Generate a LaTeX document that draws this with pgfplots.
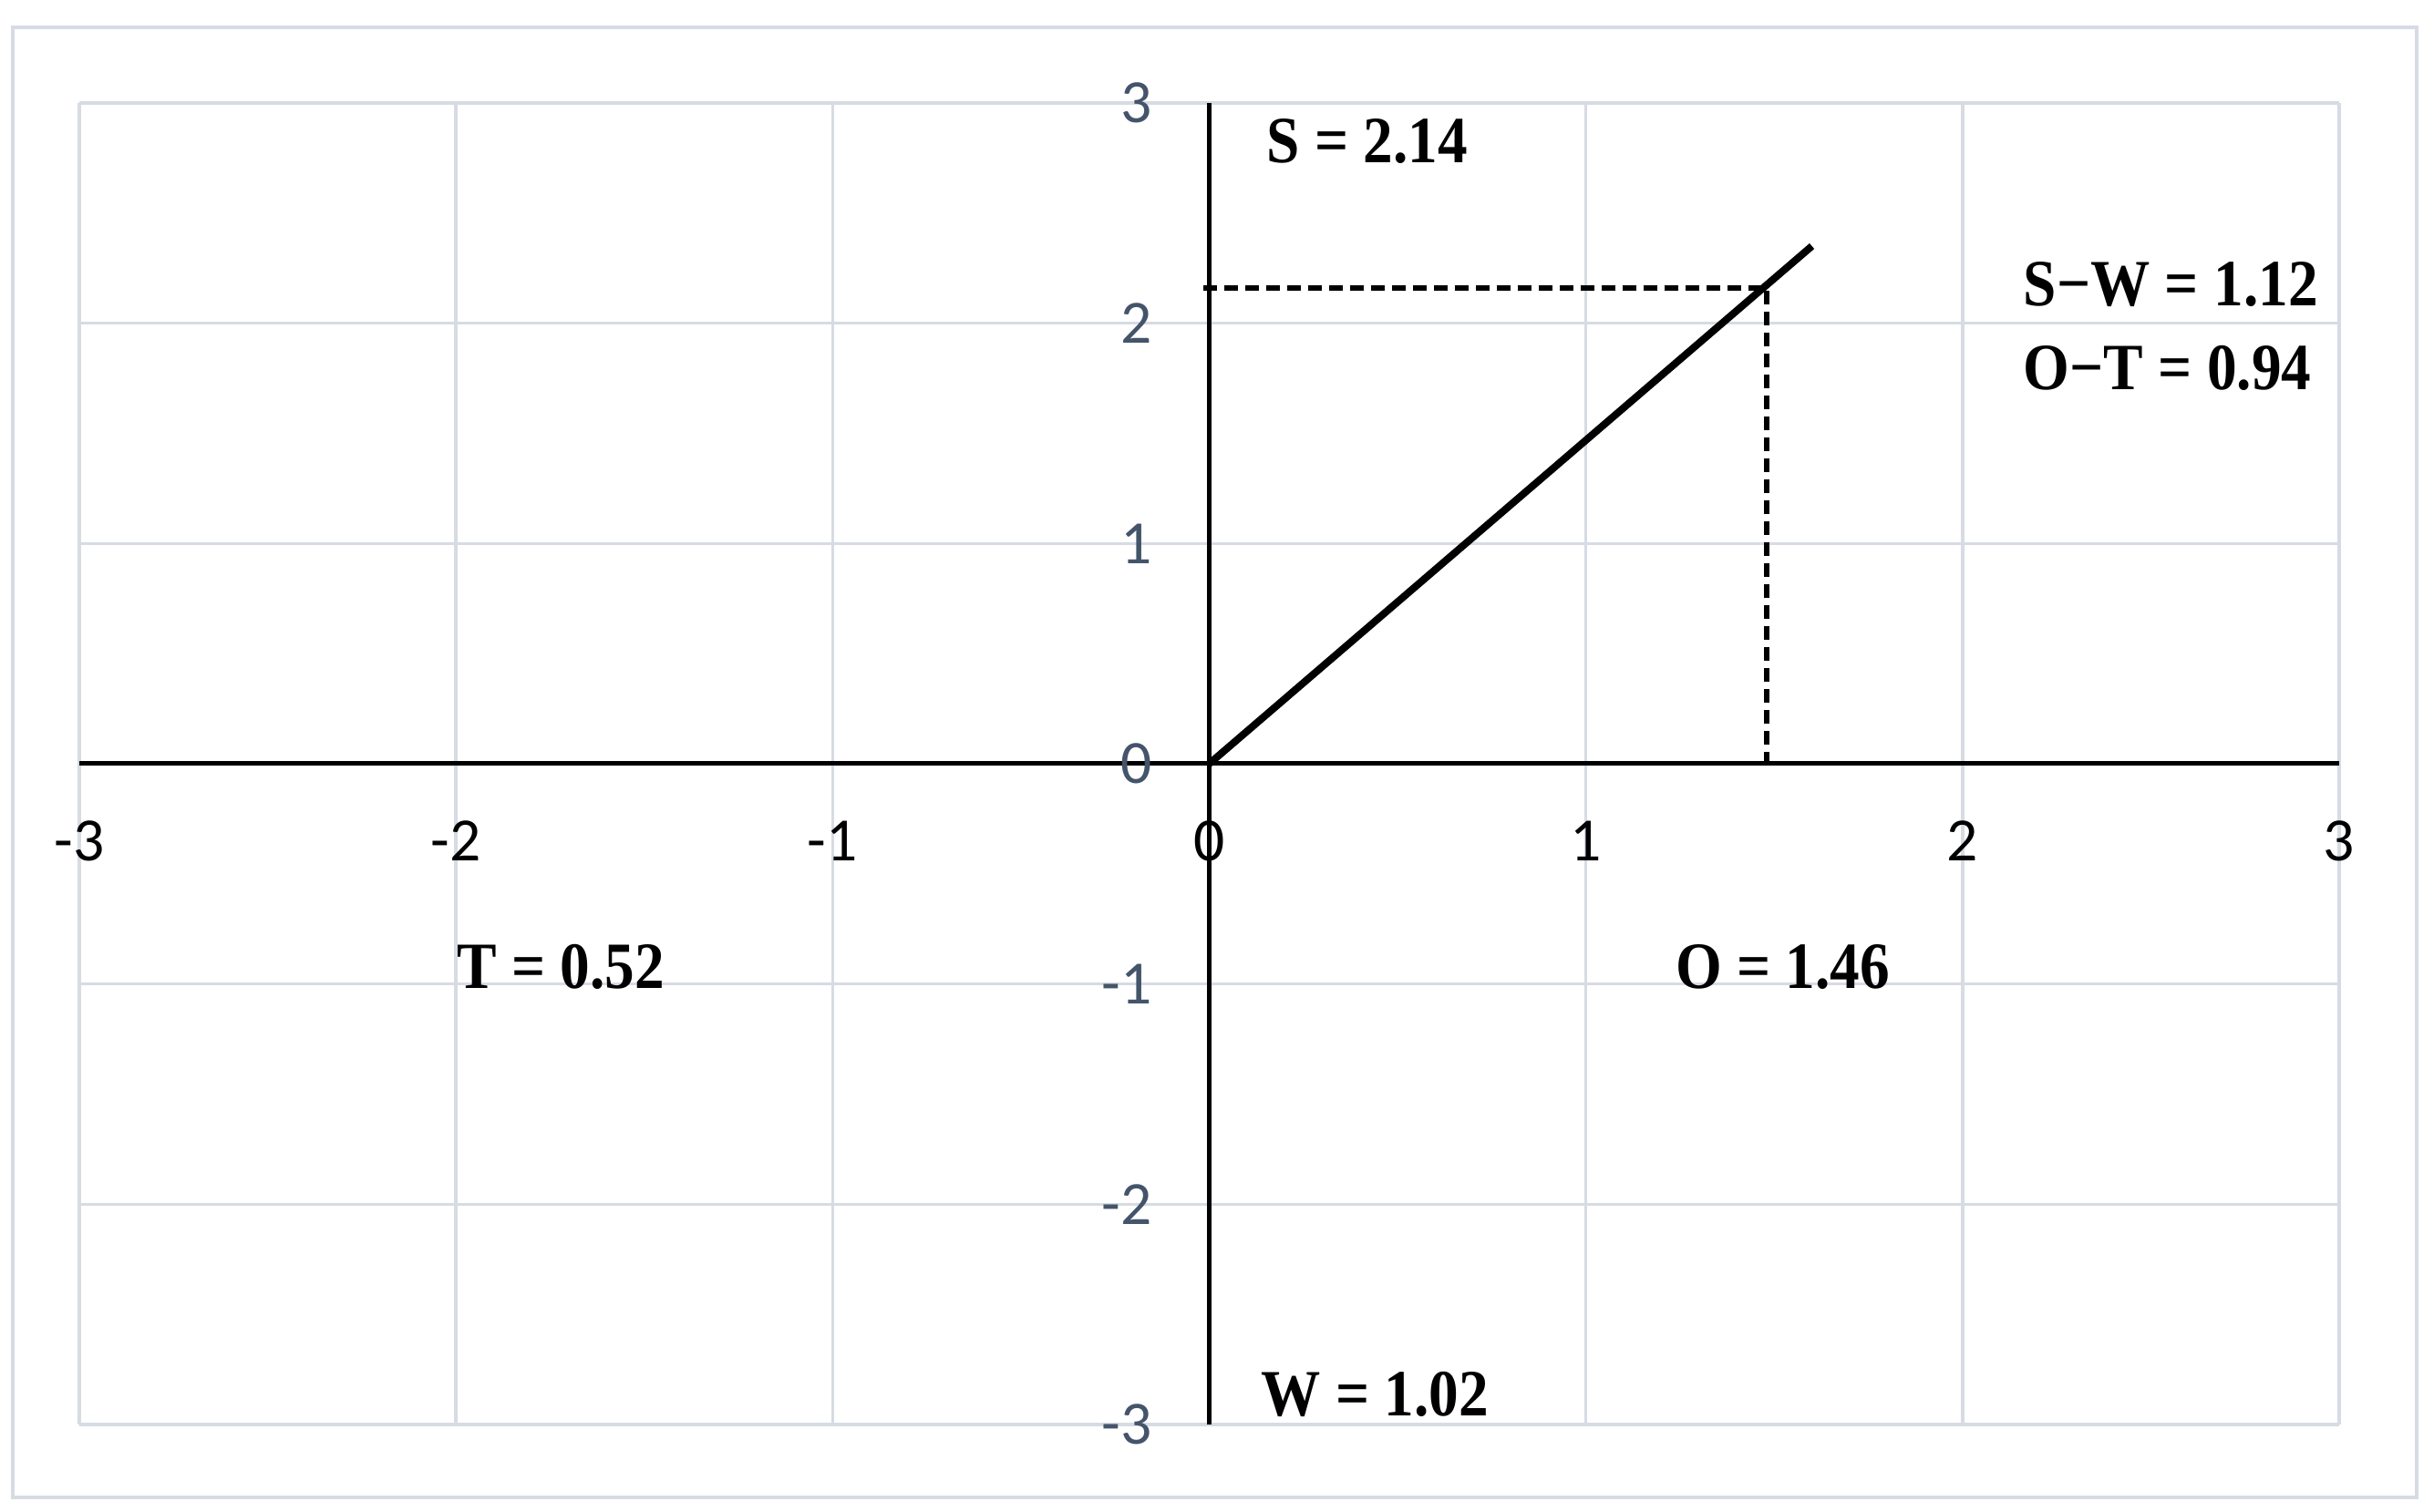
\documentclass[border=0pt]{standalone}
\usepackage{fontspec}
\setmainfont{Carlito}
\newfontfamily\annfont[FakeStretch=0.9]{Liberation Serif}
\usepackage{pgfplots}
\pgfplotsset{compat=1.18}
\usetikzlibrary{calc}

\definecolor{gridc}{RGB}{214,219,228}
\definecolor{ylab}{RGB}{68,84,106}
\tikzset{anot/.style={anchor=base west, inner sep=0pt, font=\annfont\bfseries\fontsize{14.5}{15}\selectfont}}

\begin{document}
\begin{tikzpicture}
  \begin{axis}[
      scale only axis,
      width=495.8pt, height=290pt,
      xmin=-3, xmax=3, ymin=-3, ymax=3,
      axis lines=middle,
      axis line style={-, black, line width=1pt},
      clip=false,
      xtick={-3,-2,-1,0,1,2,3},
      xticklabels={-3,-2,-1,0,1,2,3},
      ytick={-3,-2,-1,0,1,2,3},
      yticklabels={-3,-2,-1,0,1,2,3},
      hide obscured x ticks=false,
      hide obscured y ticks=false,
      major tick length=0pt,
      xticklabel style={font=\fontsize{13.5}{14}\selectfont, text=black, anchor=north, yshift=-9pt},
      yticklabel style={font=\fontsize{13.5}{14}\selectfont, text=ylab, anchor=east, xshift=-9pt},
      grid=major,
      grid style={gridc, line width=0.7pt},
    ]
    \coordinate (bl) at (rel axis cs:0,0);
    \coordinate (tr) at (rel axis cs:1,1);

    % main line
    \addplot[black, line width=1.6pt] coordinates {(0,0) (1.6,2.35)};
    % projections
    \addplot[black, line width=1.1pt, dash pattern=on 3pt off 1.6pt]
      coordinates {(-0.015,2.16) (1.48,2.16) (1.48,0)};

    \node[anot] at (axis cs:0.15,2.73)   {S = 2.14};
    \node[anot] at (axis cs:2.16,2.08)   {S−W = 1.12};
    \node[anot] at (axis cs:2.16,1.70)   {O−T = 0.94};
    \node[anot] at (axis cs:-2.0,-1.02)  {T = 0.52};
    \node[anot] at (axis cs:1.236,-1.02) {O = 1.46};
    \node[anot] at (axis cs:0.136,-2.96) {W = 1.02};
  \end{axis}
  \draw[gridc, line width=0.7pt] ($(bl)+(-14.6pt,-16pt)$) rectangle ($(tr)+(17pt,16.6pt)$);
  \pgfresetboundingbox
  \useasboundingbox ($(bl)+(-17.4pt,-19.2pt)$) rectangle ($(tr)+(20.8pt,22.6pt)$);
\end{tikzpicture}
\end{document}
